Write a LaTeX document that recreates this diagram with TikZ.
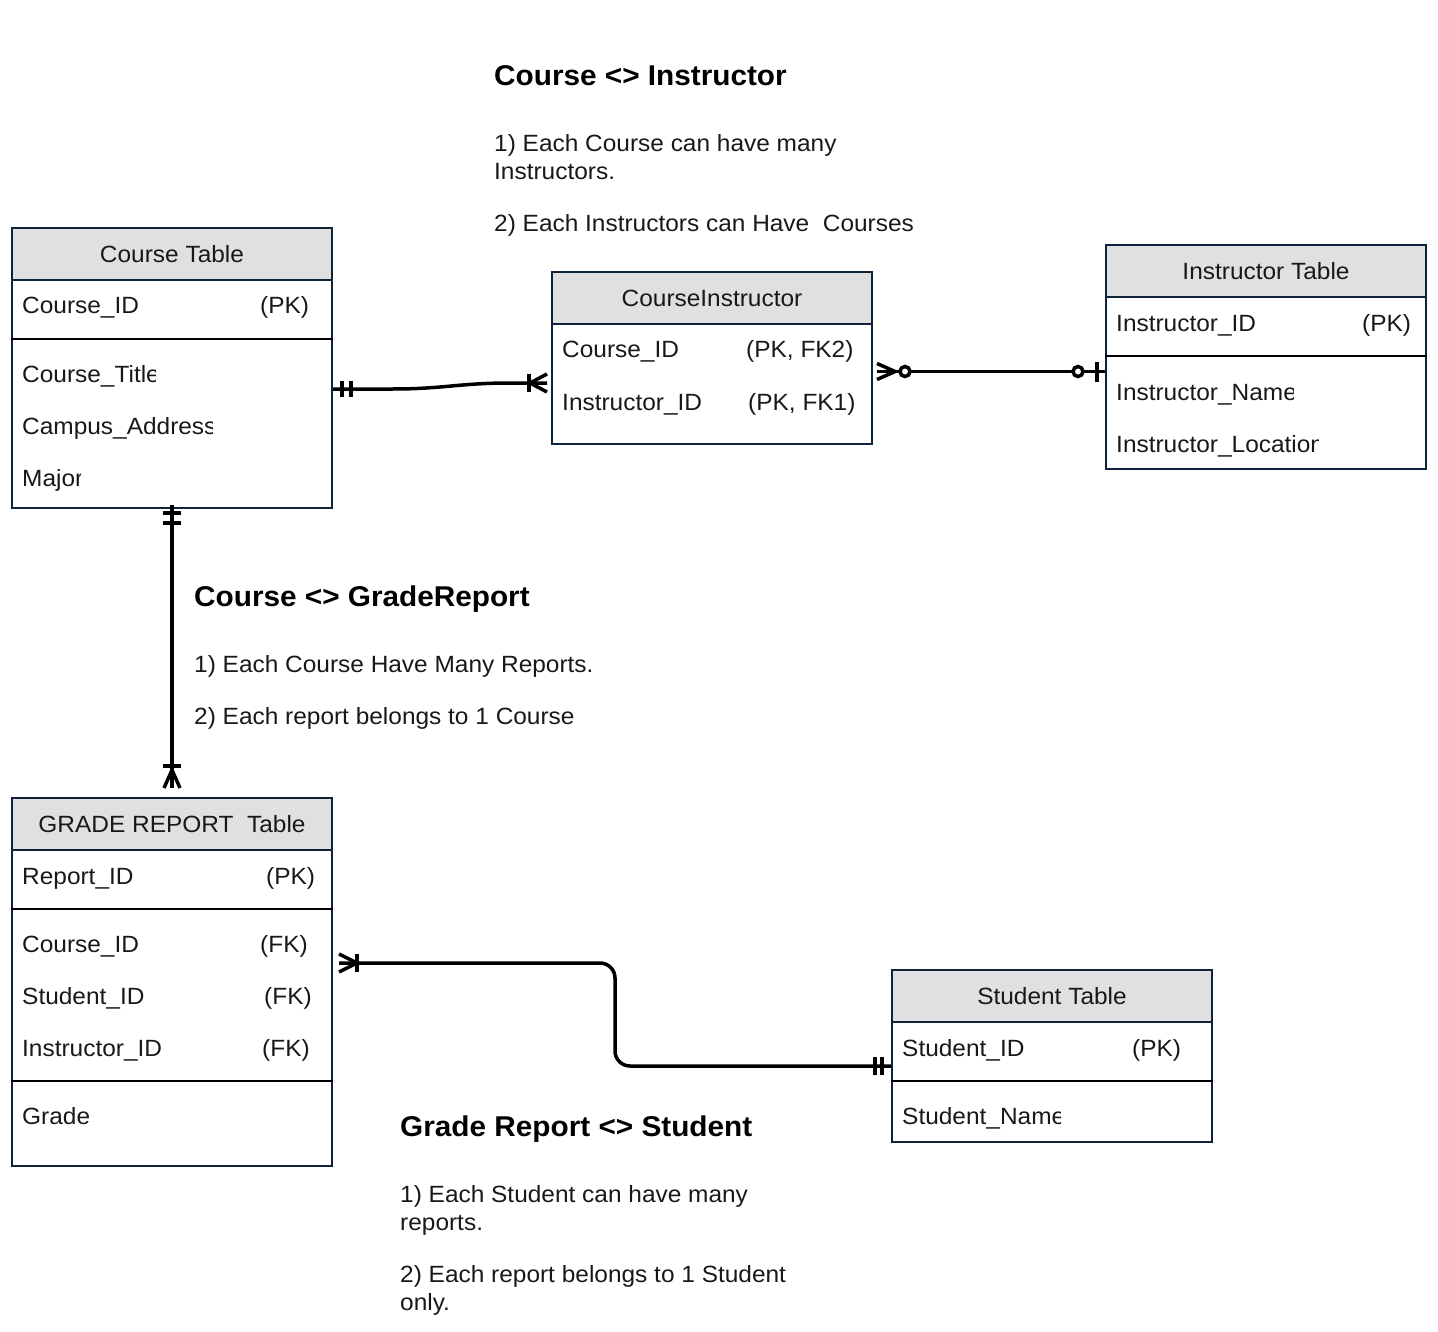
\documentclass[tikz,border=0pt]{standalone}
\usepackage{fontspec}
\setmainfont{Liberation Sans}[FakeStretch=1.04]
\usetikzlibrary{calc}

\definecolor{frame}{RGB}{14,35,58}
\definecolor{headfill}{RGB}{224,224,224}
\definecolor{ink}{RGB}{24,24,24}

\tikzset{
  tablebox/.style={draw=frame, line width=2pt, anchor=north west, inner sep=0pt,
                   minimum width=320pt},
  headbox/.style={draw=frame, fill=headfill, line width=2pt, anchor=north west,
                  inner sep=0pt, minimum width=320pt, minimum height=52pt, text=ink,
                  font=\fontsize{23.5}{28}\selectfont},
  rowline/.style={draw=black, line width=2pt},
  field/.style={anchor=base west, inner sep=0pt, text=ink,
                font=\fontsize{23.5}{28}\selectfont},
  heading/.style={anchor=base west, inner sep=0pt, text=black,
                  font=\bfseries\fontsize{28.6}{34}\selectfont},
  rel/.style={draw=black, line width=3.5pt},
}

% a field whose text is cut off at the right edge of its cell
\newcommand\cutfield[5]{%
  \begin{scope}
    \clip (#2-4,#3-26) rectangle (#4,#3+10);
    \node[field] (#1) at (#2,#3) {#5};
  \end{scope}}

\begin{document}
\begin{tikzpicture}[x=1pt,y=-1pt]
\useasboundingbox (0,0) rectangle (1438,1332);

% ---------- Course Table ----------
\node[tablebox, minimum height=280pt] (course) at (11,227) {};
\node[headbox] (courseHead) at (11,227) {Course Table};
\draw[rowline] (course.west |- 0,339) -- (course.east |- 0,339);
\node[field] (courseId) at (22,314) {Course\_ID};
\node[field] (coursePk) at (260,314) {(PK)};
\cutfield{courseTitle}{22}{382}{155}{Course\_Title}
\cutfield{campusAddr}{22}{434}{212}{Campus\_Address}
\cutfield{major}{22}{486}{80}{Major}

% ---------- CourseInstructor ----------
\node[tablebox, minimum height=172pt] (ci) at (551,271) {};
\node[headbox] (ciHead) at (551,271) {CourseInstructor};
\node[field] (ciCourse) at (562,358) {Course\_ID};
\node[field] (ciCourseKey) at (746,358) {(PK, FK2)};
\node[field] (ciInstr) at (562,410) {Instructor\_ID};
\node[field] (ciInstrKey) at (748,410) {(PK, FK1)};

% ---------- Instructor Table ----------
\node[tablebox, minimum height=224pt] (instr) at (1105,244) {};
\node[headbox] (instrHead) at (1105,244) {Instructor Table};
\draw[rowline] (instr.west |- 0,356) -- (instr.east |- 0,356);
\node[field] (instrId) at (1116,332) {Instructor\_ID};
\node[field] (instrPk) at (1362,332) {(PK)};
\cutfield{instrName}{1116}{400}{1293}{Instructor\_Name}
\cutfield{instrLoc}{1116}{452}{1318}{Instructor\_Location}

% ---------- GRADE REPORT Table ----------
\node[tablebox, minimum height=368pt] (grade) at (11,797) {};
\node[headbox] (gradeHead) at (11,797) {GRADE REPORT\ \ Table};
\draw[rowline] (grade.west |- 0,909) -- (grade.east |- 0,909);
\draw[rowline] (grade.west |- 0,1081) -- (grade.east |- 0,1081);
\node[field] (reportId) at (22,884) {Report\_ID};
\node[field] (reportPk) at (266,884) {(PK)};
\node[field] (grCourse) at (22,952) {Course\_ID};
\node[field] (grCourseFk) at (260,952) {(FK)};
\node[field] (grStudent) at (22,1004) {Student\_ID};
\node[field] (grStudentFk) at (264,1004) {(FK)};
\node[field] (grInstr) at (22,1056) {Instructor\_ID};
\node[field] (grInstrFk) at (262,1056) {(FK)};
\node[field] (grGrade) at (22,1124) {Grade};

% ---------- Student Table ----------
\node[tablebox, minimum height=172pt] (student) at (891,969) {};
\node[headbox] (studentHead) at (891,969) {Student Table};
\draw[rowline] (student.west |- 0,1081) -- (student.east |- 0,1081);
\node[field] (studentId) at (902,1056) {Student\_ID};
\node[field] (studentPk) at (1132,1056) {(PK)};
\cutfield{studentName}{902}{1124}{1060}{Student\_Name}

% ---------- notes ----------
\node[heading] (t1) at (494,86) {Course <> Instructor};
\node[field] (t1a) at (494,152) {1) Each Course can have many};
\node[field] (t1b) at (494,180) {Instructors.};
\node[field] (t1c) at (494,232) {2) Each Instructors can Have\ \ Courses};

\node[heading] (t2) at (194,606) {Course <> GradeReport};
\node[field] (t2a) at (194,672) {1) Each Course Have Many Reports.};
\node[field] (t2b) at (194,724) {2) Each report belongs to 1 Course};

\node[heading] (t3) at (400,1136) {Grade Report <> Student};
\node[field] (t3a) at (400,1202) {1) Each Student can have many};
\node[field] (t3b) at (400,1230) {reports.};
\node[field] (t3c) at (400,1282) {2) Each report belongs to 1 Student};
\node[field] (t3d) at (400,1310) {only.};

% ---------- Course -- CourseInstructor (one and only one : one or many) ----------
\coordinate (c1a) at ($(course.north east)+(0,162)$);
\coordinate (c1b) at ($(ci.north west)+(-4,112)$);
\draw[rel] (c1a) -- ++(60,0) .. controls +(50,0) and +(-50,0) .. ($(c1b)+(-37,0)$) -- (c1b);
\draw[rel] ($(c1a)+(9,-8)$) -- ++(0,16);
\draw[rel] ($(c1a)+(18,-8)$) -- ++(0,16);
\draw[rel] ($(c1b)+(-18,-9)$) -- ++(0,18);
\draw[rel] ($(c1b)+(0,-9)$) -- ($(c1b)+(-17,0)$) -- ($(c1b)+(0,9)$);

% ---------- CourseInstructor -- Instructor (zero or many : zero or one) ----------
\coordinate (c2a) at ($(ci.north east)+(4,100.5)$);
\coordinate (c2b) at ($(instr.north west)+(0,127.5)$);
\draw[rel] (c2a) -- (c2b);
\draw[rel] ($(c2a)+(0,-8)$) -- ($(c2a)+(18,0)$) -- ($(c2a)+(0,8)$);
\draw[rel, fill=white] ($(c2a)+(28,0)$) circle (5pt);
\draw[rel, fill=white] ($(c2b)+(-27,0)$) circle (5pt);
\draw[rel] ($(c2b)+(-8,-10)$) -- ++(0,20);

% ---------- Course -- GRADE REPORT (one and only one : one or many) ----------
\coordinate (c3a) at ($(course.south)+(0,-4)$);
\coordinate (c3b) at ($(grade.north)+(0,-9)$);
\draw[rel] (c3a) -- (c3b);
\draw[rel] ($(c3a)+(-9,8)$) -- ++(18,0);
\draw[rel] ($(c3a)+(-9,18)$) -- ++(18,0);
\draw[rel] ($(c3b)+(-9,-22)$) -- ++(18,0);
\draw[rel] ($(c3b)+(-8,0)$) -- ($(c3b)+(0,-18)$) -- ($(c3b)+(8,0)$);

% ---------- GRADE REPORT -- Student (one or many : one and only one) ----------
\coordinate (c4a) at ($(grade.north east)+(6,166)$);
\coordinate (c4b) at ($(student.north west)+(0,97)$);
\draw[rel, rounded corners=15pt] (c4a) -| ($(c4a)!0.5!(c4b)$) |- (c4b);
\draw[rel] ($(c4a)+(0,-9)$) -- ($(c4a)+(18,0)$) -- ($(c4a)+(0,9)$);
\draw[rel] ($(c4a)+(18,-9)$) -- ++(0,18);
\draw[rel] ($(c4b)+(-16,-9)$) -- ++(0,18);
\draw[rel] ($(c4b)+(-9,-9)$) -- ++(0,18);

\end{tikzpicture}
\end{document}
